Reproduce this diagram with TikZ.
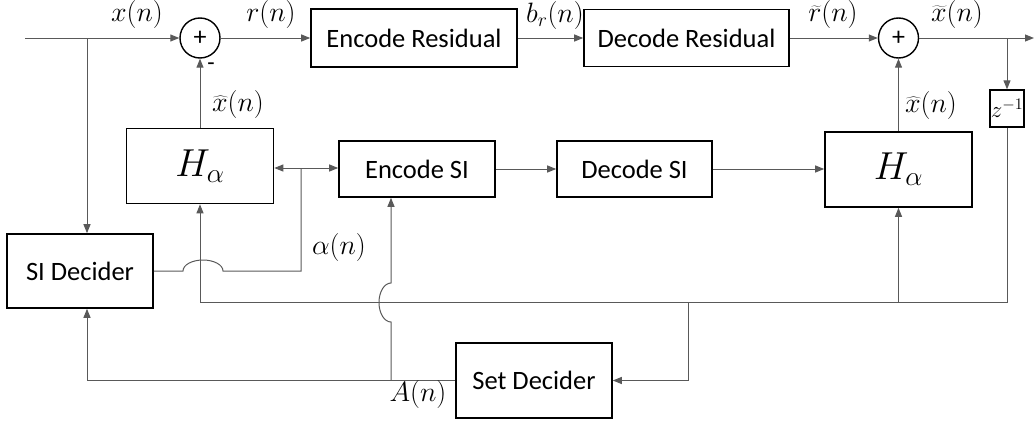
\RequirePackage{fix-cm}
\documentclass[tikz,border=0pt]{standalone}
\usepackage{fontspec}
\setmainfont{Carlito}
\usetikzlibrary{arrows.meta}
\begin{document}
\begin{tikzpicture}[x=1pt,y=-1pt,
  blk/.style={draw=black,line width=1.6pt,inner sep=0pt,font=\fontsize{26.5}{30}\selectfont},
  hblk/.style={blk,minimum width=147pt,minimum height=75pt,font=\fontsize{39}{42}\selectfont},
  sumnode/.style={draw=black,circle,line width=1.4pt,minimum size=40pt,inner sep=0pt,font=\fontsize{26}{28}\selectfont},
  wire/.style={draw=black!65,line width=1pt},
  arr/.style={wire,-{Triangle[length=9pt,width=7pt]}},
  sig/.style={inner sep=0pt,anchor=base,font=\fontsize{28}{30}\selectfont},
]
\useasboundingbox (0,0) rectangle (1034,423);

% blocks
\node[blk,minimum width=206pt,minimum height=58pt] (er) at (414,38) {Encode Residual};
\node[blk,minimum width=205pt,minimum height=57pt] (dr) at (686.5,38) {Decode Residual};
\node[sumnode] (s1) at (200,38) {+};
\node[sumnode] (s2) at (898.5,38) {+};
\node[hblk] (lh) at (200,166) {$H_\alpha$};
\node[hblk] (rh) at (898.5,169.5) {$H_\alpha$};
\node[blk,minimum width=156pt,minimum height=56pt] (esi) at (417,169) {Encode SI};
\node[blk,minimum width=155pt,minimum height=56pt] (dsi) at (634.5,169) {Decode SI};
\node[blk,minimum width=146pt,minimum height=74pt] (sid) at (80,271) {SI Decider};
\node[blk,minimum width=156pt,minimum height=75pt] (setd) at (534,380.5) {Set Decider};
\node[blk,line width=1.3pt,minimum width=34pt,minimum height=37pt,font=\fontsize{23}{25}\selectfont] (z) at (1007,108.5) {$z^{-1}$};

% junctions and free ends
\coordinate (in) at (25,38);
\coordinate (tap) at (87,38);
\coordinate (out) at (1034,38);
\coordinate (ztap) at (1007,38);
\coordinate (fbR) at (1007,302);
\coordinate (fbL) at (200,302);
\coordinate (fbS) at (688,302);
\coordinate (fbH) at (898.5,302);
\coordinate (aj) at (301,168);
\coordinate (abot) at (301,271);
\coordinate (jmpA) at (183,271);
\coordinate (Aj) at (391,380.5);
\coordinate (jmpB) at (391,322);
\coordinate (Ac) at (87,380.5);

% forward path
\draw[arr] (in) -- (s1.west);
\draw[arr] (tap) -- (tap |- sid.north);
\draw[arr] (s1.east) -- (er.west);
\draw[arr] (er.east) -- (dr.west);
\draw[arr] (dr.east) -- (s2.west);
\draw[arr] (s2.east) -- (out);
\draw[arr] (ztap) -- (z.north);

% feedback of reconstructed samples
\draw[wire] (z.south) -- (fbR) -- (fbL);
\draw[arr] (fbL) -- (lh.south);
\draw[arr] (fbH) -- (rh.south);
\draw[arr] (fbS) |- (setd.east);
\draw[arr] (lh.north) -- (s1.south);
\draw[arr] (rh.north) -- (s2.south);

% side information path
\draw[arr] (aj) -- (lh.east |- aj);
\draw[arr] (aj) -- (esi.west |- aj);
\draw[arr] (esi.east) -- (dsi.west);
\draw[arr] (dsi.east) -- (rh.west |- dsi.east);
\draw[wire] (sid.east) -- (jmpA) arc[start angle=180,end angle=0,x radius=20pt,y radius=11pt] -- (abot) -- (aj);

% set decision path
\draw[arr] (setd.west) -- (Ac) -- (Ac |- sid.south);
\draw[arr] (Aj) -- (jmpB) arc[start angle=-90,end angle=-270,x radius=12pt,y radius=19.5pt] -- (Aj |- esi.south);

% signal labels (placed by baseline)
\node[sig] (lx) at (137,21.5) {$x(n)$};
\node[sig] (lr) at (271,21.5) {$r(n)$};
\node[sig] (lb) at (555,22) {$b_r(n)$};
\node[sig] (lrt) at (833,21.5) {$\widetilde{r}(n)$};
\node[sig] (lxt) at (957,21.5) {$\widetilde{x}(n)$};
\node[sig] (lxh1) at (238,111) {$\widehat{x}(n)$};
\node[sig] (lxh2) at (931,112) {$\widehat{x}(n)$};
\node[sig] (la) at (339,254) {$\alpha(n)$};
\node[sig] (lA) at (418,401) {$A(n)$};
\node[inner sep=0pt,font=\fontsize{24}{26}\selectfont] (mn) at (211,67) {-};
\end{tikzpicture}
\end{document}
